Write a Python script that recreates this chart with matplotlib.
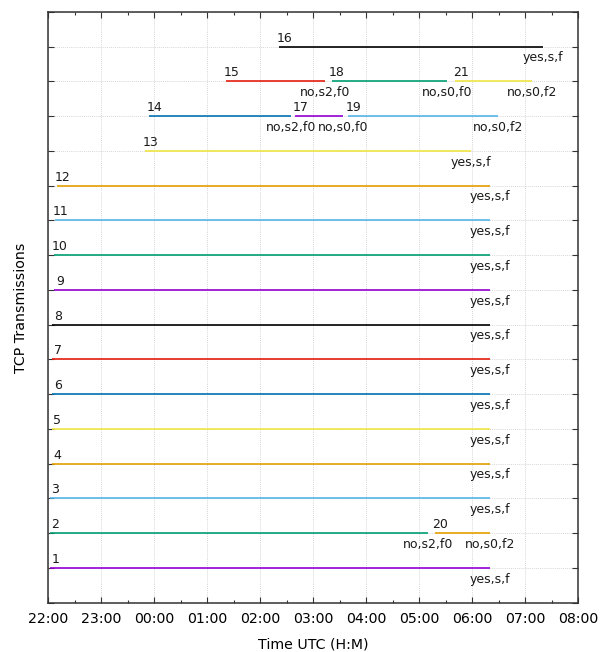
import matplotlib
matplotlib.use("Agg")
import matplotlib.pyplot as plt
from matplotlib.ticker import MultipleLocator, FuncFormatter

ids = list(range(1, 22))
levels = [1, 2, 3, 4, 5, 6, 7, 8, 9, 10, 11, 12, 13, 14, 15, 16, 14, 15, 14, 2, 15]
starts = ["22:02", "22:02", "22:02", "22:04", "22:04", "22:05", "22:05", "22:05",
          "22:07", "22:07", "22:08", "22:10", "23:50", "23:54", "01:22", "02:22",
          "02:40", "03:21", "03:40", "05:18", "05:41"]
ends = ["06:20", "05:10", "06:20", "06:20", "06:20", "06:20", "06:20", "06:20",
        "06:20", "06:20", "06:20", "06:20", "05:59", "02:35", "03:14", "07:20",
        "03:34", "05:32", "06:29", "06:20", "07:08"]
end_labels = ["yes,s,f", "no,s2,f0", "yes,s,f", "yes,s,f", "yes,s,f", "yes,s,f",
              "yes,s,f", "yes,s,f", "yes,s,f", "yes,s,f", "yes,s,f", "yes,s,f",
              "yes,s,f", "no,s2,f0", "no,s2,f0", "yes,s,f", "no,s0,f0", "no,s0,f0",
              "no,s0,f2", "no,s0,f2", "no,s0,f2"]
xtick_labels = ["22:00", "23:00", "00:00", "01:00", "02:00", "03:00", "04:00",
                "05:00", "06:00", "07:00", "08:00"]

palette = ["#9400d3", "#009e73", "#56b4e9", "#e69f00", "#f0e442", "#0072b2",
           "#e51e10", "#000000"]


def to_hours(s):
    h, m = map(int, s.split(":"))
    v = h + m / 60.0 - 22.0
    if v < 0:
        v += 24.0
    return v


fig = plt.figure(figsize=(6.08, 6.52), dpi=100)
ax = fig.add_axes([48 / 608, 1 - 602.7 / 652, (578 - 48) / 608, (602.7 - 12) / 652])

ax.set_xlim(0, 10)
ax.set_ylim(0, 17)

for i, sid in enumerate(ids):
    x0 = to_hours(starts[i])
    x1 = to_hours(ends[i])
    y = levels[i]
    c = palette[i % len(palette)]
    ax.plot([x0, x1], [y, y], color=c, lw=1.2, solid_capstyle="butt", zorder=3)
    ax.annotate(str(sid), (x0, y), xytext=(4.0, 3.6), textcoords="offset points",
                ha="center", va="baseline", fontsize=9, color="#1a1a1a")
    ax.annotate(end_labels[i], (x1, y), xytext=(0, -3.4), textcoords="offset points",
                ha="center", va="top", fontsize=9, color="#1a1a1a")

ax.xaxis.set_major_locator(MultipleLocator(1))
ax.xaxis.set_minor_locator(MultipleLocator(0.5))
ax.xaxis.set_major_formatter(FuncFormatter(
    lambda v, p: xtick_labels[int(round(v))] if 0 <= int(round(v)) < len(xtick_labels) else ""))
ax.set_yticks(range(0, 18))
ax.set_yticklabels([])

ax.tick_params(axis="both", which="major", direction="in", length=4.5, width=0.8,
               top=True, right=True, labelsize=10.2, pad=7, color="#333333")
ax.tick_params(axis="x", which="minor", direction="in", length=2.5, width=0.8,
               top=True, bottom=True, color="#333333")
ax.tick_params(axis="y", which="minor", left=False, right=False)

ax.grid(True, which="major", color="#c8c8c8", linestyle=(0, (1, 1.5)), lw=0.6, zorder=0)
for s in ax.spines.values():
    s.set_linewidth(1.1)
    s.set_color("#333333")

ax.set_xlabel("Time UTC (H:M)", fontsize=10.2, labelpad=8)
ax.set_ylabel("TCP Transmissions", fontsize=10.2, labelpad=0)
ax.yaxis.set_label_coords(-20 / 530, 0.5)

fig.savefig("out.png", dpi=100)
